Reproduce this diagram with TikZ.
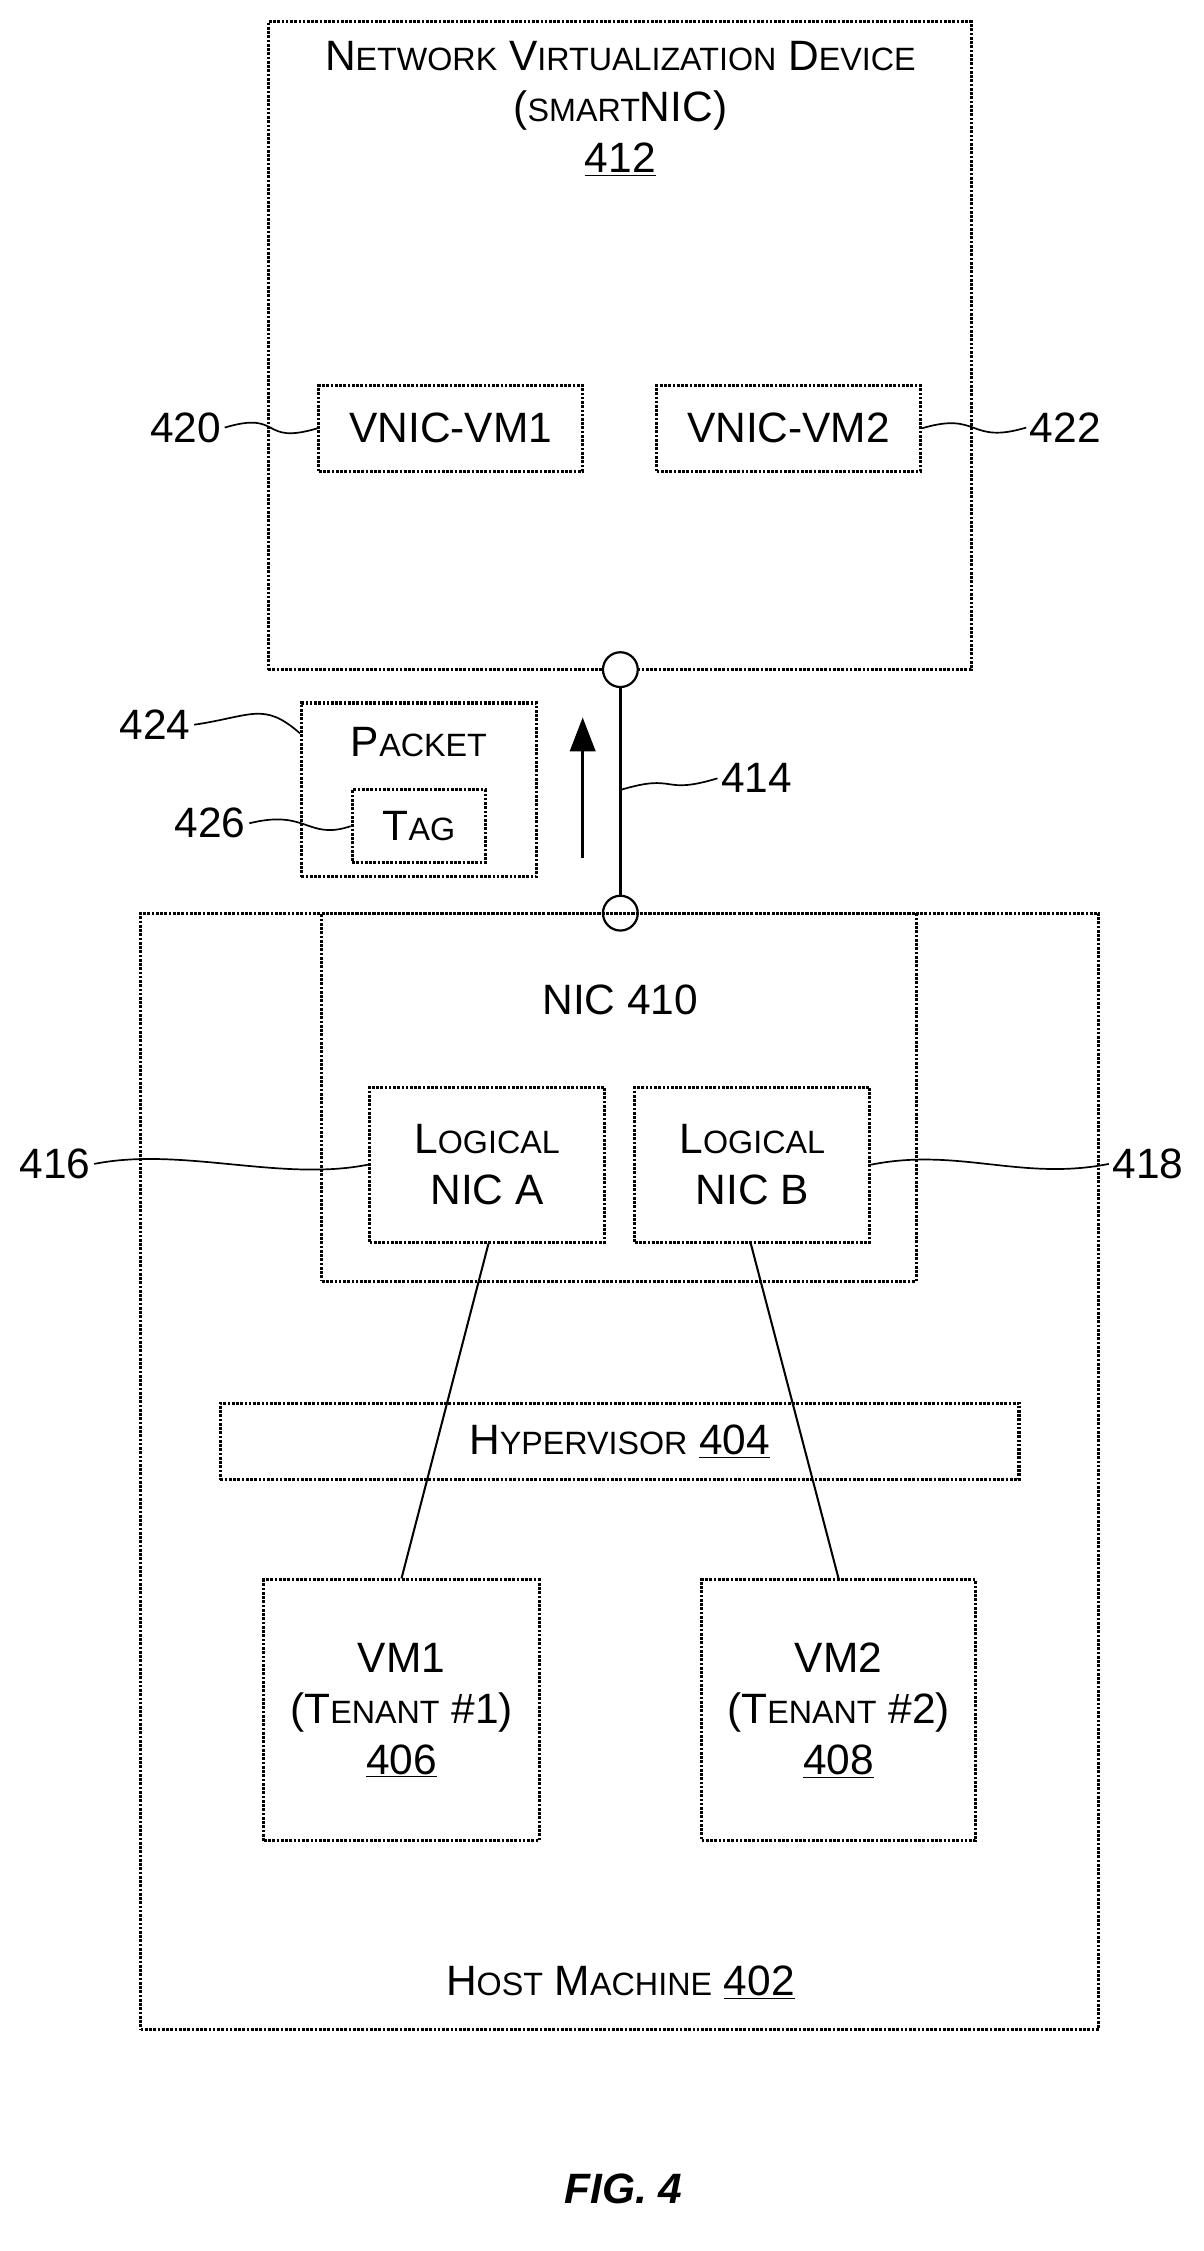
\documentclass[tikz,border=0pt]{standalone}
\usepackage{fontspec}
\setmainfont{Liberation Sans}
\usetikzlibrary{positioning,calc,arrows.meta}
\newcommand{\smc}[2]{#1{\fontsize{19}{22}\selectfont #2}}
\begin{document}
\begin{tikzpicture}[x=0.03cm,y=-0.03cm,font=\fontsize{25}{30}\selectfont]
   \tikzset{box/.style={draw, dash pattern=on 1.6pt off 0.9pt, line width=1.8pt, inner sep=0pt},
            lbl/.style={inner sep=2pt},
            lead/.style={line width=1pt}}
\useasboundingbox (0,0) rectangle (830,1553);

% smartNIC
\node[box, minimum width=485*0.03cm, minimum height=447*0.03cm] (nvd) at (427.5,238.5) {};
\node (nvdt) at (428,75) [align=center] {\smc{N}{ETWORK} \smc{V}{IRTUALIZATION} \smc{D}{EVICE}\\(\smc{}{SMART}NIC)\\\underline{412}};
\node[box, minimum width=182*0.03cm, minimum height=59*0.03cm] (vnic1) at (311,295.5) {VNIC-VM1};
\node[box, minimum width=182*0.03cm, minimum height=59*0.03cm] (vnic2) at (544,295.5) {VNIC-VM2};
\node[lbl] (l420) at (128,295) {420};
\node[lbl] (l422) at (735,295) {422};
\draw[lead] (l420.east) .. controls ($(l420.east)+(40,-12)$) and ($(vnic1.west)+(-40,12)$) .. (vnic1.west);
\draw[lead] (vnic2.east) .. controls ($(vnic2.east)+(40,-12)$) and ($(l422.west)+(-40,12)$) .. (l422.west);

% link
\node[draw, circle, line width=1.3pt, minimum size=24*0.03cm, inner sep=0pt, fill=white] (c1) at (428,462) {};
\node[draw, circle, line width=1.3pt, minimum size=24*0.03cm, inner sep=0pt, fill=white] (c2) at (428,630) {};
\draw[line width=1.5pt] (c1) -- (c2);
\coordinate (a1) at (402,592);
\coordinate (a2) at (402,495);
\draw[line width=1.5pt, -{Triangle[length=20pt,width=15pt]}] (a1) -- (a2);
\node[lbl] (l414) at (522,537) {414};
\coordinate (w414) at (428,545);
\draw[lead] (w414) .. controls ($(w414)+(40,-12)$) and ($(l414.west)+(-40,12)$) .. (l414.west);

% packet
\node[box, minimum width=162*0.03cm, minimum height=120*0.03cm] (pkt) at (289,545) {};
\node (pktt) at (289,512) {\smc{P}{ACKET}};
\node[box, minimum width=92*0.03cm, minimum height=50*0.03cm] (tag) at (289,570) {\smc{T}{AG}};
\node[lbl] (l424) at (107,500) {424};
\node[lbl] (l426) at (145,568) {426};
\draw[lead] (l424.east) .. controls ($(l424.east)+(40,-6)$) and ($(pkt.north west)+(-25,0)$) .. ($(pkt.north west)+(0,22)$);
\draw[lead] (l426.east) .. controls ($(l426.east)+(40,-10)$) and ($(tag.west)+(-30,10)$) .. (tag.west);

% host
\node[box, minimum width=661*0.03cm, minimum height=770*0.03cm] (host) at (427.5,1015) {};
\node[box, minimum width=410*0.03cm, minimum height=254*0.03cm] (nic) at (427,757) {};
\node (nict) at (428,690) {NIC 410};
\node[box, minimum width=162*0.03cm, minimum height=107*0.03cm, align=center] (lnA) at (336,803.5) {\smc{L}{OGICAL}\\NIC A};
\node[box, minimum width=162*0.03cm, minimum height=107*0.03cm, align=center] (lnB) at (519,803.5) {\smc{L}{OGICAL}\\NIC B};
\node[lbl] (l416) at (38,803) {416};
\node[lbl] (l418) at (792,803) {418};
\draw[lead] (l416.east) .. controls ($(l416.east)+(60,-12)$) and ($(lnA.west)+(-60,12)$) .. (lnA.west);
\draw[lead] (lnB.east) .. controls ($(lnB.east)+(60,-12)$) and ($(l418.west)+(-60,12)$) .. (l418.west);
\node[box, minimum width=551*0.03cm, minimum height=53*0.03cm] (hyp) at (427.5,994.5) {\smc{H}{YPERVISOR} \underline{404}};
\node[box, minimum width=190*0.03cm, minimum height=180*0.03cm, align=center] (vm1) at (277,1180) {VM1\\(\smc{T}{ENANT} \#1)\\\underline{406}};
\node[box, minimum width=189*0.03cm, minimum height=180*0.03cm, align=center] (vm2) at (578.5,1180) {VM2\\(\smc{T}{ENANT} \#2)\\\underline{408}};
\draw[line width=1.2pt] ($(lnA.south)+(1,0)$) -- (vm1.north);
\draw[line width=1.2pt] ($(lnB.south)+(-1,0)$) -- (vm2.north);
\node (hostt) at (428,1368) {\smc{H}{OST} \smc{M}{ACHINE} \underline{402}};

\node (fig) at (430,1510) {\bfseries\itshape FIG. 4};
\end{tikzpicture}
\end{document}
